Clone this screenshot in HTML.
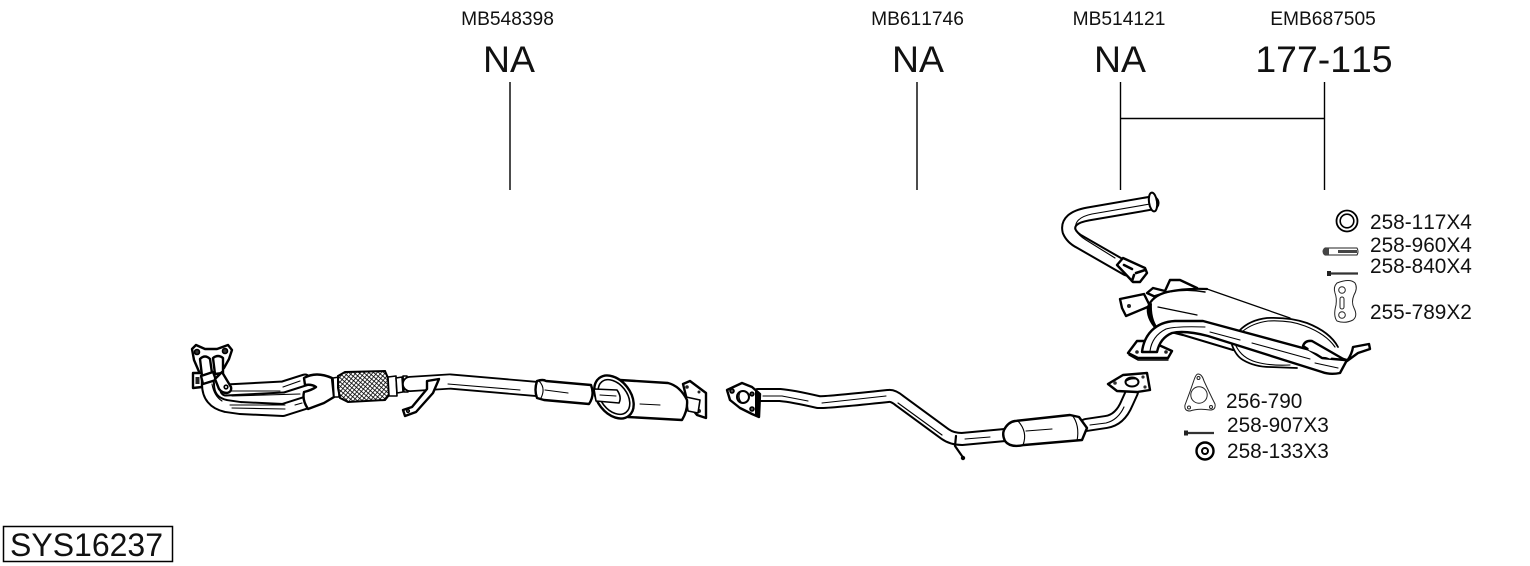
<!DOCTYPE html>
<html><head><meta charset="utf-8"><style>
html,body{margin:0;padding:0;background:#fff;width:1530px;height:566px;overflow:hidden}
svg{display:block}
text{font-family:"Liberation Sans",sans-serif;fill:#111;font-kerning:none}
.o{fill:#fff;stroke:#000;stroke-width:1.6;stroke-linejoin:round;stroke-linecap:round}
.h{fill:#fff;stroke:#000;stroke-width:2.4;stroke-linejoin:round;stroke-linecap:round}
.t{fill:#fff;stroke:#222;stroke-width:1;stroke-linejoin:round}
.n{fill:none;stroke:#000;stroke-width:1.1;stroke-linecap:round;stroke-linejoin:round}
.b{fill:none;stroke:#000;stroke-linecap:round;stroke-linejoin:round}
.w{fill:none;stroke:#fff;stroke-linecap:round;stroke-linejoin:round}
</style></head><body>
<svg width="1530" height="566" viewBox="0 0 1530 566" xmlns="http://www.w3.org/2000/svg">
<defs><pattern id="m" width="3.2" height="3.2" patternUnits="userSpaceOnUse" patternTransform="rotate(40)">
<rect width="3.2" height="3.2" fill="#fff"/><path d="M0 0H3.2M0 0V3.2" stroke="#000" stroke-width="1.5"/></pattern></defs>

<g font-size="19.200" text-anchor="middle">
<text x="507.500" y="25">MB548398</text><text x="917.500" y="25">MB611746</text><text x="1119" y="25">MB514121</text><text x="1323" y="25">EMB687505</text>
</g>
<g font-size="37.400" text-anchor="middle">
<text x="509" y="72">NA</text><text x="918" y="72">NA</text><text x="1120" y="72">NA</text><text x="1324" y="72">177-115</text>
</g>
<path d="M510 82V190M917 82V190M1120.500 82V190M1324.500 82V190M1120 118.500H1325" fill="none" stroke="#000" stroke-width="1.400"/>

<g font-size="20.800">
<text x="1370" y="229">258-117X4</text><text x="1370" y="252">258-960X4</text><text x="1370" y="273">258-840X4</text><text x="1370" y="319">255-789X2</text>
<text x="1226" y="408">256-790</text><text x="1227" y="432">258-907X3</text><text x="1227" y="458">258-133X3</text>
</g>
<rect x="3.500" y="526.500" width="169" height="35" fill="#fff" stroke="#000" stroke-width="1.500"/>
<text x="10" y="556" font-size="32">SYS16237</text>

<!-- front pipe -->
<path class="h" d="M192 349L196 345L205 349L217 349L228 345L232 350L229 359L224 368L216 374L200 374L194 360Z"/>
<circle cx="197" cy="352" r="2.500" class="o" style="fill:#333"/><circle cx="225" cy="351" r="2.500" class="o" style="fill:#333"/>
<path class="h" d="M193 373H202V387L193 388Z"/><rect x="195.500" y="377" width="4" height="7" fill="#222"/>
<path class="b" stroke-width="13" d="M226 390L283 387L305 380"/><path class="w" stroke-width="9" d="M226 390L283 387L305 380"/>
<path class="b" stroke-width="14" d="M208 384Q208 402 226 406L240 408L283 410L305 403"/><path class="w" stroke-width="10" d="M208 384Q208 402 226 406L240 408L283 410L305 403"/>
<path class="n" d="M230 391H280M232 396L300 394M230 405H285M232 408L285 409M283 387L300 381M295 405L302 403M212 384Q214 396 222 401"/>
<path class="h" d="M200 359Q205 354 210 359L212 373L202 376ZM213 358Q218 354 223 358L223 373L215 374Z"/>
<path class="h" d="M201 376L213 372L216 380L203 384Z"/>
<path class="h" d="M215 379L222 372L231 387Q232 392 227 393Q222 393 219 389Z"/>
<circle cx="226" cy="387" r="1.800" class="o"/>
<path class="h" d="M304 378Q316 371 332 378L334 397L324 403L308 409Q302 400 304 392Q312 390 316 387Q312 384 305 385Z"/>
<path class="o" d="M333 378L339 377V397L334 397Z"/>
<path d="M338 376L345 372L385 371L388 378L389 395L385 400L348 402L340 398L338 388Z" fill="url(#m)" stroke="#000" stroke-width="2"/>
<path class="o" d="M388 377L396 376L397 396L389 396Z"/><path class="o" d="M396 378L402 377L403 392L397 393Z"/>
<path class="o" d="M403 376L407 376L408 392L404 392Z"/>
<path class="b" stroke-width="16" d="M410 384L450 381.500L537 389"/><path class="w" stroke-width="12.400" d="M410 384L450 381.500L537 389"/>
<path class="n" d="M448 384L520 390"/>
<path class="h" d="M427 381L439 379L433 393L416 412L405 416L403 410L412 407L427 389Z"/><circle cx="408" cy="411" r="1.300" class="o"/>
<path class="h" d="M537 381Q543 379 546 381L591 385Q595 395 589 404L544 400L537 398Q534 390 537 381Z"/>
<path class="n" d="M539 381Q546 388 541 398M545 390L568 393"/>
<path class="h" d="M683 384L690 381L706 393L706 418L697 415L688 404Z"/>
<circle cx="687" cy="387" r="1.800" fill="#222"/><circle cx="699" cy="392" r="1.500" fill="#222"/><circle cx="699" cy="411" r="2" fill="#222"/>
<path class="o" d="M686 397L700 400L698 413L688 411Z"/>
<path class="h" d="M620 380L668 383Q680 386 687 400Q688 410 682 420L628 417L620 400Z"/>
<path class="n" d="M640 404L660 405"/>
<ellipse cx="614" cy="397" rx="16.500" ry="24" transform="rotate(-38 614 397)" class="h"/>
<ellipse cx="614" cy="397" rx="13" ry="19.500" transform="rotate(-38 614 397)" class="o"/>
<path class="o" d="M594 389L617 390Q622 397 619 403L596 401Z"/>
<path class="n" d="M600 395L616 396"/>

<!-- middle pipe -->
<path class="b" stroke-width="14" d="M758 395L780 395Q792 396 818 402Q822 403 888 396Q893 395 900 401L945 434Q952 439 962 439L1005 435"/>
<path class="w" stroke-width="10" d="M758 395L780 395Q792 396 818 402Q822 403 888 396Q893 395 900 401L945 434Q952 439 962 439L1005 435"/>
<path class="n" d="M763 396H782L808 401M822 403L886 396M898 403L942 435M965 439L990 437"/>
<path class="h" d="M727 390L742 383L752 387L760 394L759 417L752 414L740 408L730 400Z"/>
<path d="M760 393L759 417L755 416L755 391Z"/>
<circle cx="743" cy="397" r="6" class="o" style="stroke-width:2"/><path d="M741 392A6 6 0 0 0 743 403A8 8 0 0 1 741 392Z"/>
<circle cx="732" cy="391" r="2" class="o" style="fill:#555"/><circle cx="752" cy="394" r="1.800" class="o" style="fill:#555"/><circle cx="752" cy="409" r="2" class="o" style="fill:#555"/>
<path class="b" stroke-width="2.200" d="M956 436L955 446L962 456"/><circle cx="963" cy="458" r="2.200" fill="#000"/>
<path class="b" stroke-width="14" d="M1086 425L1106 422Q1120 420 1127 403L1132 392"/>
<path class="w" stroke-width="10" d="M1086 425L1106 422Q1120 420 1127 403L1132 392"/>
<path class="n" d="M1090 425L1106 423Q1118 420 1124 407"/>
<path class="h" d="M1004 430Q1008 422 1015 421L1070 415L1079 417L1087 428L1082 440L1024 445Q1010 448 1005 441Q1002 435 1004 430Z"/>
<path class="n" d="M1018 421Q1028 432 1023 445M1072 415Q1080 425 1077 441M1026 431L1052 429"/>
<path class="h" d="M1108 384L1123 375L1147 373L1150 390L1137 392L1117 391Z"/>
<ellipse cx="1132" cy="382" rx="6.500" ry="4.500" class="o" style="stroke-width:2"/><path d="M1126 382A6.500 4.500 0 0 1 1138 380Q1131 378 1126 382Z"/>
<circle cx="1115" cy="383" r="1.800" fill="#333"/><circle cx="1143" cy="377" r="1.600" fill="#333"/><circle cx="1145" cy="387" r="1.600" fill="#333"/>

<!-- upper tube -->
<path class="b" stroke-width="15" d="M1152 203L1088 214Q1066 218 1069 231Q1072 238 1080 242L1127 269"/>
<path class="w" stroke-width="11" d="M1152 203L1088 214Q1066 218 1069 231Q1072 238 1080 242L1127 269"/>
<path class="n" d="M1150 204L1092 214Q1073 218 1076 230Q1078 235 1086 240L1115 258"/>
<ellipse cx="1153" cy="202" rx="4" ry="9.500" transform="rotate(-8 1153 202)" class="o" style="stroke-width:2"/>
<path class="h" d="M1117 265L1123 258L1145 268L1147 273L1140 282L1133 282Z"/>
<path class="b" stroke-width="2.600" d="M1124 265L1132 269M1136 273L1145 270M1134 275L1132 281"/>

<!-- rear muffler -->
<path class="h" d="M1147 293L1153 288L1165 291L1170 280L1180 280L1197 288L1162 300Z"/>
<path class="n" d="M1165 291L1175 296"/>
<path class="h" d="M1120 299L1144 294L1150 306L1126 316L1122 308Z"/><circle cx="1129" cy="306" r="2" fill="#222"/>
<path d="M1148 307Q1152 296 1167 292Q1185 288 1207 289L1290 318L1307 323Q1330 332 1338 347L1320 372L1270 367Q1243 360 1232 350L1183 335L1160 323L1150 313Z" fill="#fff"/>
<path class="b" stroke-width="2.200" d="M1148 307Q1152 296 1167 292Q1185 288 1207 289"/>
<path class="b" stroke-width="1.300" d="M1207 289L1290 318M1158 307L1197 315"/>
<path d="M1147 306Q1145 318 1156 330L1158 328Q1151 318 1152 303Z"/>
<path class="b" stroke-width="1.500" d="M1154 296Q1180 287 1205 292"/>
<path class="b" stroke-width="2.200" d="M1156 328L1183 335L1233 350"/>
<path class="b" stroke-width="1.800" d="M1240 330Q1250 320 1267 318Q1290 317 1307 323Q1330 332 1338 347"/>
<path class="n" d="M1243 331Q1253 323 1268 321Q1290 320 1305 326Q1326 334 1335 347"/>
<path class="b" stroke-width="1.800" d="M1232 345Q1236 356 1243 360Q1255 367 1270 367L1297 368"/>
<path class="n" d="M1236 346Q1242 358 1256 362Q1270 366 1290 365"/>
<path class="h" d="M1128 353L1137 341L1150 341L1172 351L1168 358L1138 358Z"/>
<path class="b" stroke-width="1.400" d="M1129 355L1138 360L1168 360"/>
<circle cx="1137" cy="352" r="1.800" fill="#222"/><circle cx="1166" cy="352" r="1.800" fill="#222"/>
<path class="h" d="M1142 352C1144 335 1155 322 1175 321L1203 321L1347 360L1340 373Q1330 375 1322 372L1208 336Q1185 330 1172 333Q1160 338 1157 352Z"/>
<path class="n" d="M1150 351Q1152 336 1166 329Q1176 326 1205 327M1210 332L1240 340M1252 343L1310 359M1315 363L1338 368"/>
<path class="h" d="M1303 346Q1305 340 1312 341L1345 360L1322 358Z"/>
<path class="w" stroke-width="3" d="M1310 349L1330 357"/>
<path class="h" d="M1353 347L1369 344L1370 349L1358 353L1347 361Q1352 354 1353 347Z"/>

<!-- hardware -->
<circle cx="1347" cy="221" r="10.500" class="o" style="stroke-width:1.800"/><circle cx="1347" cy="221" r="6.800" class="o"/>
<path class="t" d="M1325 248H1357Q1359 251.500 1357 255H1325Q1322 251.500 1325 248Z"/><path d="M1324 248Q1321 251.500 1324 255H1329V248ZM1338 250H1357V253H1338Z" fill="#444"/>
<path d="M1327 271H1331V276H1327Z" fill="#222"/><path d="M1331 273.500H1358" stroke="#333" stroke-width="2.200"/>
<path class="t" d="M1337 283Q1350 278 1355 283Q1358 288 1354 295Q1351 302 1354 308Q1358 316 1353 320Q1345 324 1337 321Q1333 316 1336 305Q1337 298 1335 293Q1333 287 1337 283Z"/>
<circle cx="1342" cy="290" r="3.300" class="t"/><circle cx="1342" cy="315" r="3.300" class="t"/><rect x="1340" y="297" width="4" height="12" rx="2" class="t"/>

<path class="t" d="M1198 374Q1202 374 1204 381Q1210 394 1215 404Q1216 410 1210 410Q1198 408 1190 411Q1184 411 1185 405Q1190 392 1194 380Q1196 374 1198 374Z"/>
<circle cx="1199" cy="395" r="8.200" class="t"/><circle cx="1198.500" cy="378" r="1.500" class="t"/><circle cx="1189" cy="407.500" r="1.500" class="t"/><circle cx="1211" cy="407" r="1.500" class="t"/>
<path d="M1184 430.500H1188V435.500H1184Z" fill="#222"/><path d="M1188 433H1214" stroke="#333" stroke-width="2.200"/>
<circle cx="1205" cy="451" r="8.500" class="h"/><circle cx="1205" cy="451" r="3" class="o" style="stroke-width:2"/>
</svg>
</body></html>
